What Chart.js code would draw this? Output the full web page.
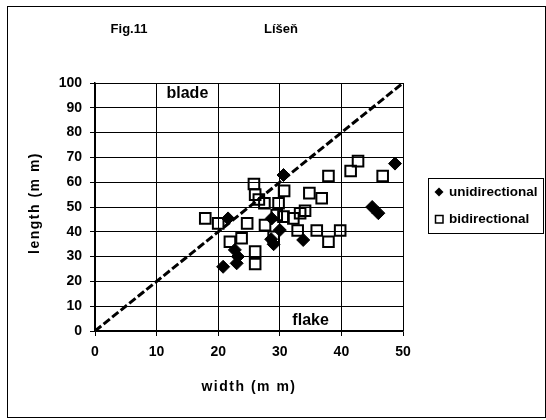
<!DOCTYPE html>
<html><head><meta charset="utf-8">
<script src="https://cdn.jsdelivr.net/npm/chart.js@4/dist/chart.umd.min.js"></script>
<style>html,body{margin:0;padding:0;background:#fff}canvas{display:block}</style>
</head><body>
<canvas id="c" width="546" height="420" style="width:546px;height:420px"></canvas>
<script>
// ---- data ----
const xTicks = [0, 10, 20, 30, 40, 50];
const yTicks = [0, 10, 20, 30, 40, 50, 60, 70, 80, 90, 100];
const seriesNames = ['unidirectional', 'bidirectional'];
const uniWidth  = [21.6, 20.8, 23.0, 22.7, 23.2, 28.6, 29.0, 28.7, 30.0, 30.6, 33.8, 45.0, 46.0, 48.7];
const uniLength = [45.4, 25.9, 27.3, 32.7, 30.0, 37.0, 35.0, 45.4, 40.7, 62.9, 36.7, 50.0, 47.5, 67.5];
const biWidth  = [17.9, 20.0, 21.9, 23.8, 24.7, 25.8, 26.0, 26.6, 26.0, 26.0, 27.6, 27.5, 29.8, 30.7, 29.0, 29.5, 30.6, 32.2, 33.3, 34.1, 34.8, 36.8, 32.9, 36.0, 37.9, 39.8, 37.9, 41.5, 42.7, 46.7];
const biLength = [45.4, 43.4, 36.0, 37.4, 43.4, 59.3, 55.0, 53.0, 32.0, 27.0, 42.7, 51.5, 51.5, 56.5, 38.0, 46.8, 46.1, 45.4, 47.5, 48.5, 55.6, 53.5, 40.5, 40.5, 36.0, 40.5, 62.5, 64.5, 68.5, 62.5];
const refWidth  = [0, 50];
const refLength = [0, 100];
const figLabel = 'Fig.11';
const siteTitle = 'Líšeň';
const xTitle = 'width (m m)';
const yTitle = 'length (m m)';
const zoneLabels = ['blade', 'flake'];
const zoneWidth  = [15, 35];
const zoneLength = [95.6, 4];

const FONT = '"Liberation Sans", Arial, Helvetica, sans-serif';
const toPts = (xs, ys) => xs.map((x, i) => ({x: x, y: ys[i]}));

const decor = {
  id: 'decor',
  beforeDraw(chart) {
    const ctx = chart.ctx;
    ctx.save();
    ctx.fillStyle = '#fff';
    ctx.fillRect(0, 0, chart.width, chart.height);
    ctx.restore();
  },
  afterDraw(chart) {
    const ctx = chart.ctx;
    const xs = chart.scales.x, ys = chart.scales.y;
    ctx.save();
    // outer frame
    ctx.strokeStyle = '#000';
    ctx.lineWidth = 1;
    ctx.strokeRect(7.5, 6.5, 538, 411);
    // titles
    ctx.fillStyle = '#000';
    ctx.textAlign = 'center';
    ctx.textBaseline = 'middle';
    ctx.font = 'bold 13px ' + FONT;
    ctx.fillText(figLabel, 129, 29);
    ctx.fillText(siteTitle, 281, 29);
    // zone labels
    ctx.font = 'bold 16px ' + FONT;
    zoneLabels.forEach((t, i) => {
      ctx.fillText(t, xs.getPixelForValue(zoneWidth[i]), ys.getPixelForValue(zoneLength[i]));
    });
    // axis titles
    ctx.font = 'bold 14px ' + FONT;
    try { ctx.letterSpacing = '1.5px'; } catch (e) {}
    ctx.fillText(xTitle, (chart.chartArea.left + chart.chartArea.right) / 2, 387);
    ctx.save();
    ctx.translate(35, (chart.chartArea.top + chart.chartArea.bottom) / 2 - 4);
    ctx.rotate(-Math.PI / 2);
    ctx.fillText(yTitle, 0, 0);
    ctx.restore();
    try { ctx.letterSpacing = '0px'; } catch (e) {}
    // legend
    ctx.fillStyle = '#fff';
    ctx.fillRect(428.5, 178.5, 115, 55);
    ctx.strokeStyle = '#000';
    ctx.lineWidth = 1;
    ctx.strokeRect(428.5, 178.5, 115, 55);
    ctx.fillStyle = '#000';
    ctx.beginPath();
    ctx.moveTo(439, 187.5); ctx.lineTo(443.5, 192); ctx.lineTo(439, 196.5); ctx.lineTo(434.5, 192);
    ctx.closePath(); ctx.fill();
    ctx.lineWidth = 1.5;
    ctx.strokeRect(435.5, 215.5, 7.5, 7.5);
    ctx.textAlign = 'left';
    ctx.font = 'bold 13.5px ' + FONT;
    ctx.fillText(seriesNames[0], 449, 192.5);
    ctx.fillText(seriesNames[1], 449, 219.5);
    ctx.restore();
  }
};

new Chart(document.getElementById('c'), {
  type: 'scatter',
  data: {
    datasets: [
      {
        label: 'blade/flake boundary',
        type: 'line',
        data: toPts(refWidth, refLength),
        borderColor: '#000',
        borderWidth: 3,
        borderDash: [8, 3],
        pointRadius: 0,
        fill: false,
        order: 3
      },
      {
        label: seriesNames[1],
        data: toPts(biWidth, biLength),
        pointStyle: 'rect',
        pointRadius: 7.5,
        borderWidth: 2,
        borderColor: '#000',
        backgroundColor: 'rgba(0,0,0,0)',
        order: 2
      },
      {
        label: seriesNames[0],
        data: toPts(uniWidth, uniLength),
        pointStyle: 'rectRot',
        pointRadius: 6.5,
        borderWidth: 1,
        borderColor: '#000',
        backgroundColor: '#000',
        order: 1
      }
    ]
  },
  options: {
    responsive: false,
    devicePixelRatio: 1,
    animation: false,
    layout: { padding: { left: 0, top: 83, right: 143, bottom: 0 } },
    plugins: { legend: { display: false }, title: { display: false }, tooltip: { enabled: false } },
    scales: {
      x: {
        type: 'linear', min: 0, max: 50,
        afterBuildTicks: s => { s.ticks = xTicks.map(v => ({value: v})); },
        afterFit: s => { s.height = 89; },
        ticks: { color: '#000', font: { family: FONT, size: 14, weight: 'bold' }, padding: 8 },
        grid: { color: '#000', lineWidth: 1, tickLength: 5, tickColor: '#000' },
        border: { color: '#000', width: 1.5 }
      },
      y: {
        type: 'linear', min: 0, max: 100,
        afterBuildTicks: s => { s.ticks = yTicks.map(v => ({value: v})); },
        afterFit: s => { s.width = 95; },
        ticks: { color: '#000', font: { family: FONT, size: 14, weight: 'bold' }, padding: 8 },
        grid: { color: '#000', lineWidth: 1, tickLength: 5, tickColor: '#000' },
        border: { color: '#000', width: 1.5 }
      }
    }
  },
  plugins: [decor]
});
</script>
</body></html>
